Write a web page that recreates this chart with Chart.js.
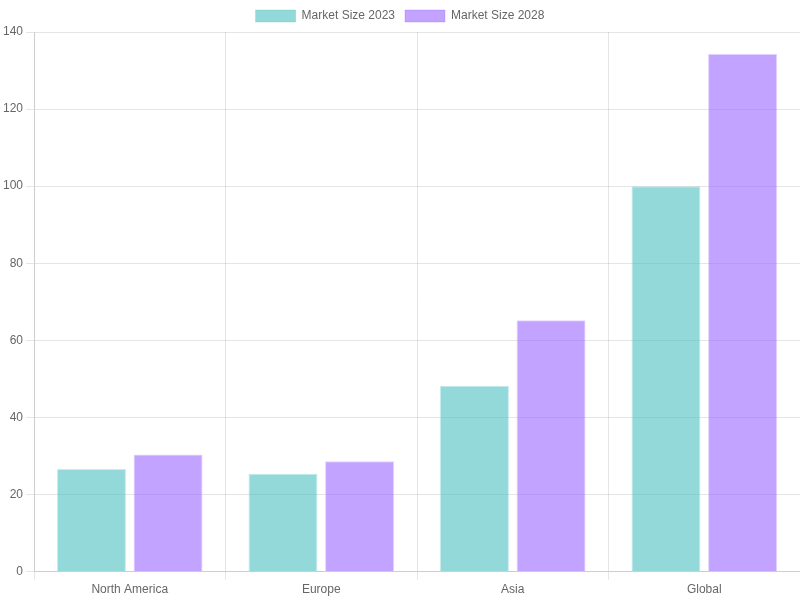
<!DOCTYPE html>
<html>
<head>
<meta charset="utf-8">
<script src="https://cdn.jsdelivr.net/npm/chart.js@4"></script>
<style>
html,body{margin:0;padding:0;background:#fff;}
#wrap{width:800px;height:600px;}
</style>
</head>
<body>
<div id="wrap"><canvas id="c"></canvas></div>
<script>
const categories = ["North America", "Europe", "Asia", "Global"];
const market2023 = [26.6, 25.4, 48.2, 100];
const market2028 = [30.4, 28.6, 65.2, 134.3];
const seriesNames = ["Market Size 2023", "Market Size 2028"];

new Chart(document.getElementById('c'), {
  type: 'bar',
  data: {
    labels: categories,
    datasets: [
      {
        label: seriesNames[0],
        data: market2023,
        backgroundColor: 'rgba(75,192,192,0.6)',
        borderColor: 'rgba(75,192,192,0.3)',
        borderWidth: 1
      },
      {
        label: seriesNames[1],
        data: market2028,
        backgroundColor: 'rgba(153,102,255,0.6)',
        borderColor: 'rgba(153,102,255,0.3)',
        borderWidth: 1
      }
    ]
  },
  options: {
    responsive: true,
    maintainAspectRatio: false,
    animation: false,
    scales: {
      y: { beginAtZero: true, max: 140, ticks: { stepSize: 20 } }
    }
  }
});
</script>
</body>
</html>
